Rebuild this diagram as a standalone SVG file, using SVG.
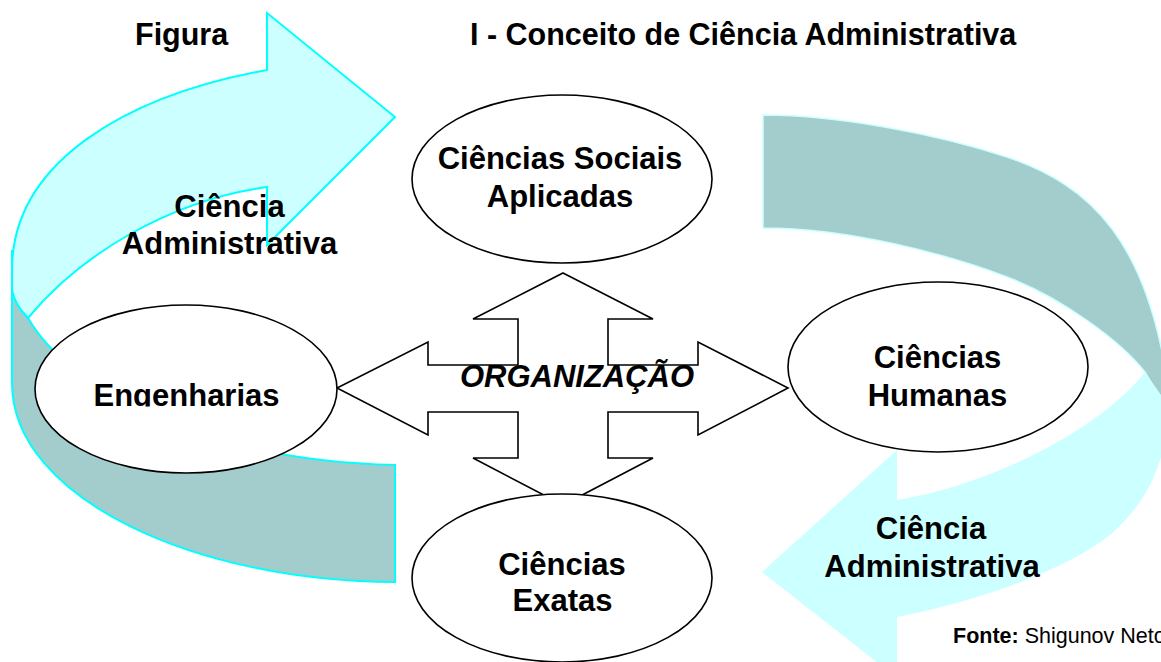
<svg xmlns="http://www.w3.org/2000/svg" width="1161" height="662" viewBox="0 0 1161 662">
<style>
.lbl{font-family:"Liberation Sans",Arial,sans-serif;font-weight:bold;font-size:31px;fill:#000;text-anchor:middle}
.ttl{font-family:"Liberation Sans",Arial,sans-serif;font-weight:bold;font-size:30.5px;fill:#000}
.node{fill:#fff;stroke:#000;stroke-width:1.6}
.light{fill:#CCFFFF}
.dark{fill:#A3CCCC}
</style>
<defs>
<clipPath id="engClip"><rect x="0" y="360" width="400" height="46.5"/></clipPath>
</defs>
<rect width="1161" height="662" fill="#fff"/>

<g id="title">
<text class="ttl" x="135" y="45">Figura</text>
<text class="ttl" x="470" y="45">I - Conceito de Ciência Administrativa</text>
</g>

<g id="arrow-left">
<path class="dark" d="M12,250 L12,383 C12,500 200,582 395,582 L395,465 C200,460 70,390 28,318 Z" stroke="#00FFFF" stroke-width="2"/>
<path class="light" d="M28,318 C80,255 170,200 267,187 L267,245 L395,117 L267,13 L267,70 C130,95 12,160 12,270 L12,290 C14,302 20,310 28,318 Z" stroke="#00FFFF" stroke-width="2" stroke-linejoin="miter"/>
<text class="lbl" x="229.5" y="217">Ciência</text>
<text class="lbl" x="229.5" y="254">Administrativa</text>
</g>

<g id="arrow-right">
<path class="dark" d="M763,115 C840,115 940,135 1007,157 C1090,185 1150,240 1170,400 L1161,400 L1145,372 C1120,340 1060,297 1007,277 C950,255 850,228 763,228 Z" stroke="#CCFFFF" stroke-width="1.5"/>
<path class="light" d="M897,500 L897,450 L762,572 L897,678 L897,617 C960,605 1060,575 1110,535 C1145,505 1170,460 1168,400 L1161,395 L1145,372 C1100,430 990,485 897,500 Z"/>
<text class="lbl" x="931" y="539">Ciência</text>
<text class="lbl" x="932" y="577">Administrativa</text>
</g>

<g id="connectors">
<polygon id="organizacao-cross" points="563,273 653,319 608,319 608,365 698,365 698,342 788,388 698,435 698,412 608,412 608,458 653,458 563,505 473,458 518,458 518,412 428,412 428,435 337,388 428,342 428,365 518,365 518,319 473,319" fill="#fff" stroke="#000" stroke-width="1.6" stroke-linejoin="miter"/>
<text x="577" y="387" font-family="Liberation Sans, Arial, sans-serif" font-weight="bold" font-style="italic" font-size="31" text-anchor="middle">ORGANIZAÇÃO</text>
</g>

<g id="node-sociais">
<ellipse class="node" cx="562" cy="179" rx="150" ry="84"/>
<text class="lbl" x="560" y="169">Ciências Sociais</text>
<text class="lbl" x="560" y="207">Aplicadas</text>
</g>

<g id="node-engenharias">
<ellipse class="node" cx="186" cy="389" rx="151" ry="84"/>
<text class="lbl" x="186.5" y="406" clip-path="url(#engClip)">Engenharias</text>
</g>

<g id="node-humanas">
<ellipse class="node" cx="938" cy="367" rx="150" ry="85"/>
<text class="lbl" x="937.5" y="368">Ciências</text>
<text class="lbl" x="937.5" y="406">Humanas</text>
</g>

<g id="node-exatas">
<ellipse class="node" cx="562" cy="578" rx="150" ry="84"/>
<text class="lbl" x="562" y="575">Ciências</text>
<text class="lbl" x="562.5" y="611">Exatas</text>
</g>

<g id="source">
<text x="953" y="643" font-family="Liberation Sans, Arial, sans-serif" font-size="21.5"><tspan font-weight="bold">Fonte:</tspan> Shigunov Neto</text>
</g>
</svg>
